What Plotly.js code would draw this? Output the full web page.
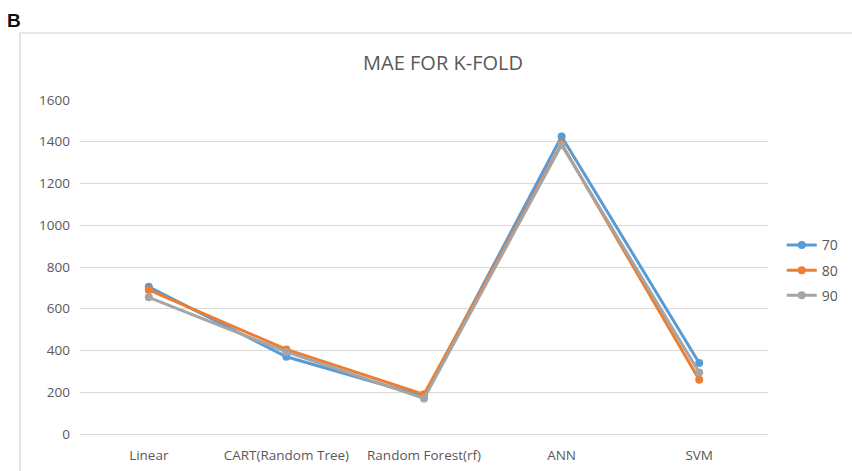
<!DOCTYPE html>
<html>
<head>
<meta charset="utf-8">
<script src="https://cdn.plot.ly/plotly-3.0.1.min.js"></script>
<style>
  html, body { margin: 0; padding: 0; background: #ffffff; }
  #chart { width: 852px; height: 471px; }
</style>
</head>
<body>
<div id="chart"></div>
<script>
// Models evaluated with k-fold validation
const models = ["Linear", "CART(Random Tree)", "Random Forest(rf)", "ANN", "SVM"];

// Mean absolute error per training split
const mae70 = [705, 370, 180, 1425, 340];
const mae80 = [690, 405, 190, 1390, 260];
const mae90 = [655, 393, 170, 1385, 295];

const seriesNames = ["70", "80", "90"];
const seriesColors = ["#5B9BD5", "#ED7D31", "#A5A5A5"];

const yTicks = [0, 200, 400, 600, 800, 1000, 1200, 1400, 1600];

const font = "Open Sans, Noto Sans, sans-serif";
const textGray = "#595959";

const traces = [mae70, mae80, mae90].map((vals, i) => ({
  type: "scatter",
  mode: "lines+markers",
  name: seriesNames[i],
  legendgroup: "g" + i,
  x: models,
  y: vals,
  line: { color: seriesColors[i], width: 3 },
  marker: { color: seriesColors[i], size: 8 }
}));

const layout = {
  width: 852,
  height: 471,
  margin: { l: 80, r: 84, t: 100, b: 37, autoexpand: false },
  paper_bgcolor: "#ffffff",
  plot_bgcolor: "#ffffff",
  title: {
    text: "MAE FOR K-FOLD",
    font: { family: font, size: 20, color: textGray },
    x: 0.52, xanchor: "center",
    y: 0.866, yanchor: "middle"
  },
  xaxis: {
    type: "category",
    range: [-0.5, 4.5],
    showgrid: false,
    zeroline: false,
    showline: false,
    ticks: "",
    tickfont: { family: font, size: 13.5, color: textGray },
    ticklabelstandoff: 11
  },
  yaxis: {
    range: [0, 1600],
    tickvals: yTicks,
    ticktext: yTicks.map(String),
    showgrid: true,
    gridcolor: "#d9d9d9",
    gridwidth: 1,
    zeroline: true,
    zerolinecolor: "#d9d9d9",
    showline: false,
    ticks: "",
    tickfont: { family: font, size: 13.5, color: textGray },
    ticklabelstandoff: 9
  },
  legend: {
    x: 1.02, xanchor: "left",
    y: 0.49, yanchor: "middle",
    font: { family: font, size: 14, color: textGray },
    itemwidth: 30,
    traceorder: "grouped",
    tracegroupgap: 4,
    bgcolor: "rgba(0,0,0,0)"
  },
  shapes: [
    {
      // chart-area frame (left and top edges)
      type: "path",
      xref: "paper", yref: "paper",
      path: "M -0.0872,-0.12 L -0.0872,1.2006 L 1.2,1.2006",
      line: { color: "#d0d0d0", width: 1.2 }
    }
  ],
  annotations: [
    {
      text: "<b>B</b>",
      xref: "paper", yref: "paper",
      x: -0.0955, y: 1.237,
      xanchor: "center", yanchor: "middle",
      showarrow: false,
      font: { family: "Liberation Sans, Arial, sans-serif", size: 19, color: "#111111" }
    }
  ]
};

Plotly.newPlot("chart", traces, layout, { displayModeBar: false, staticPlot: true });
</script>
</body>
</html>
